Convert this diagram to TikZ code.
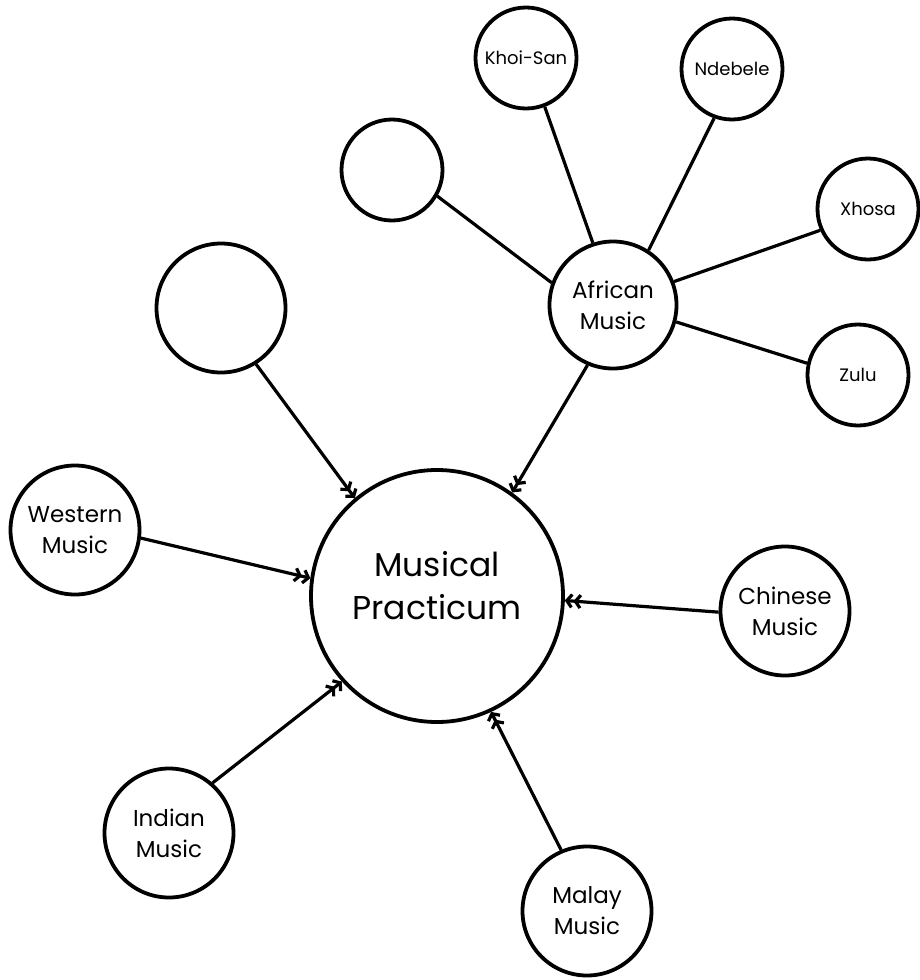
\documentclass[tikz,border=0pt]{standalone}
\usepackage{fontspec}
\setmainfont{Poppins}
\usetikzlibrary{arrows.meta}
\begin{document}
\begin{tikzpicture}[x=1pt,y=-1pt,
  circ/.style={circle,draw,line width=3.8pt,inner sep=0pt,align=center},
  bigc/.style={circ,minimum size=252pt},
  midc/.style={circ,minimum size=129pt,font=\fontsize{23}{31}\selectfont},
  smallc/.style={circ,minimum size=101pt,font=\fontsize{18}{21}\selectfont},
  spoke/.style={line width=3.2pt},
  arr/.style={line width=3.2pt,-{Straight Barb[length=5pt,width=13pt]Straight Barb[length=5pt,width=13pt]}}
]
\useasboundingbox (0,0) rectangle (919,980);
\node[bigc] (main) at (437,596) {};
\node[font=\fontsize{33}{43}\selectfont,align=center] (mainlbl) at (437,586) {Musical\\Practicum};
\node[midc] (western) at (75,530) {Western\\Music};
\node[midc] (chinese) at (785,611) {Chinese\\Music};
\node[midc] (indian) at (169,833) {Indian\\Music};
\node[midc] (malay) at (587,911) {Malay\\Music};
\node[midc] (bigempty) at (221,308) {};
\node[midc,minimum size=127pt] (african) at (613,305) {African\\Music};
\node[smallc] (khoi) at (526,58) {Khoi-San};
\node[smallc] (ndebele) at (732,69) {Ndebele};
\node[smallc] (smallempty) at (392,170) {};
\node[smallc] (xhosa) at (868,209) {Xhosa};
\node[smallc] (zulu) at (858,375) {Zulu};
% arrows into main
\draw[arr] (bigempty.302) -- (main.130);
\draw[arr] (african.247) -- (main.54);
\draw[arr] (western.-7) -- (main.172);
\draw[arr] (chinese.181) -- (main.-2);
\draw[arr] (indian.49) -- (main.222);
\draw[arr] (malay.113) -- (main.295);
% spokes of African
\draw[spoke] (khoi.291) -- (african.108);
\draw[spoke] (ndebele.250) -- (african.57);
\draw[spoke] (xhosa.204) -- (african.21);
\draw[spoke] (zulu.167) -- (african.-15);
\draw[spoke] (smallempty.-30) -- (african.160);
\end{tikzpicture}
\end{document}
